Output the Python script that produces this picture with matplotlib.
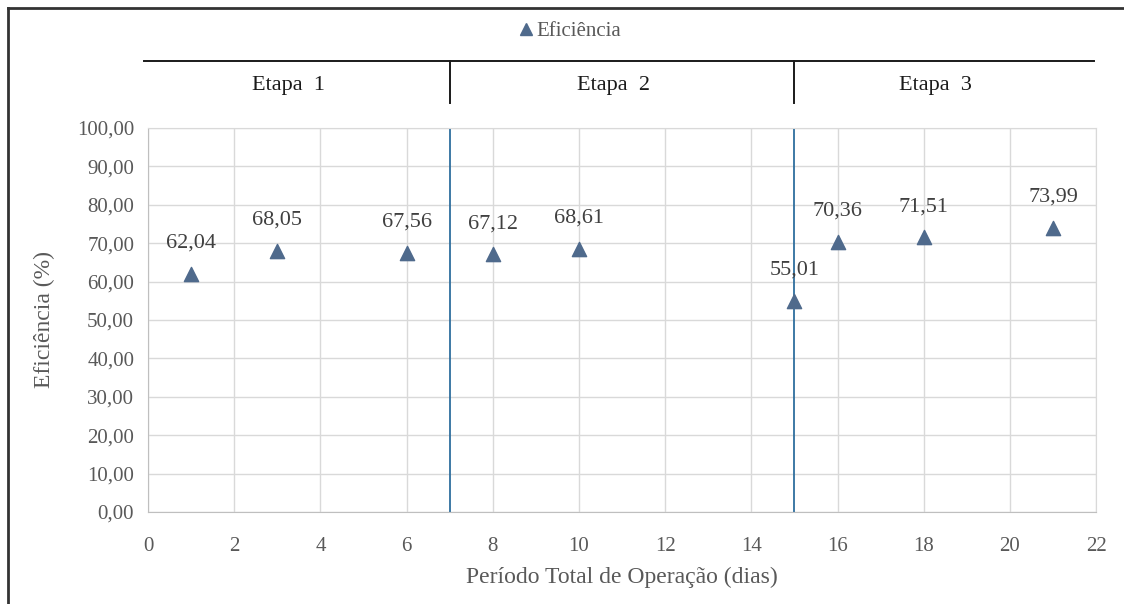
import matplotlib.pyplot as plt
from matplotlib.ticker import FuncFormatter
from matplotlib.lines import Line2D

# dados
dias = [1, 3, 6, 8, 10, 15, 16, 18, 21]
eficiencia = [62.04, 68.05, 67.56, 67.12, 68.61, 55.01, 70.36, 71.51, 73.99]
etapas = ["Etapa  1", "Etapa  2", "Etapa  3"]
limites_etapa = [7, 15]

plt.rcParams['font.family'] = ['Liberation Serif', 'DejaVu Serif']

cor_ponto = '#4F6A8C'
cor_texto = '#404040'
cor_tick = '#595959'
cor_grade = '#D9D9D9'
cor_etapa = '#2E6E9E'


def virgula(v, pos=None):
    return f"{v:.2f}".replace('.', ',')


fig = plt.figure(figsize=(11.24, 6.04), dpi=100)
ax = fig.add_axes([0.1317, 0.1523, 0.8435, 0.6358])

ax.scatter(dias, eficiencia, marker='^', s=105, color=cor_ponto, zorder=3)
for x, y in zip(dias, eficiencia):
    ax.annotate(virgula(y), (x, y), xytext=(0, 22), textcoords='offset points',
                ha='center', va='center', fontsize=16, color=cor_texto)

for lim in limites_etapa:
    ax.axvline(lim, color=cor_etapa, lw=1.3, zorder=2)

ax.set_xlim(0, 22)
ax.set_ylim(0, 100)
ax.set_xticks(range(0, 23, 2))
ax.set_yticks(range(0, 101, 10))
ax.yaxis.set_major_formatter(FuncFormatter(virgula))
ax.grid(True, color=cor_grade, lw=1)
ax.set_axisbelow(True)
for s in ax.spines.values():
    s.set_color(cor_grade)
ax.spines['left'].set_color('#BFBFBF')
ax.spines['bottom'].set_color('#BFBFBF')
ax.tick_params(length=0, labelsize=15, colors=cor_tick)
ax.tick_params(axis='y', pad=10)
ax.tick_params(axis='x', pad=18)

ax.set_xlabel('Período Total de Operação (dias)', fontsize=17, color=cor_tick, labelpad=8)
ax.set_ylabel('Eficiência (%)', fontsize=17, color=cor_tick, labelpad=16)

# cabecalho com as etapas
trans = ax.get_xaxis_transform()
x0, x1 = -0.1, 21.95
ax.plot([x0, x1], [1.174, 1.174], transform=trans, color='#1a1a1a', lw=1.4, clip_on=False)
for lim in limites_etapa:
    ax.plot([lim, lim], [1.174, 1.065], transform=trans, color='#1a1a1a', lw=1.4, clip_on=False)
bordas = [x0] + limites_etapa + [x1]
centros = [(bordas[i] + bordas[i + 1]) / 2 for i in range(len(etapas))]
for c, nome in zip(centros, etapas):
    ax.text(c - 0.2, 1.11, nome, transform=trans, ha='center', va='center',
            fontsize=16, color='#1a1a1a')

# legenda
h = Line2D([], [], marker='^', color=cor_ponto, ls='none', markersize=9)
fig.legend([h], ['Eficiência'], loc='center', bbox_to_anchor=(0.507, 0.948),
           frameon=False, fontsize=15, handlelength=0.8, handletextpad=0.1,
           labelcolor=cor_tick)

# moldura (topo e esquerda)
fig.add_artist(Line2D([0.007, 0.007], [0.0, 0.987], transform=fig.transFigure,
                      color='#333333', lw=2))
fig.add_artist(Line2D([0.007, 1.0], [0.987, 0.987], transform=fig.transFigure,
                      color='#333333', lw=2))

fig.savefig('out.png', dpi=100)
